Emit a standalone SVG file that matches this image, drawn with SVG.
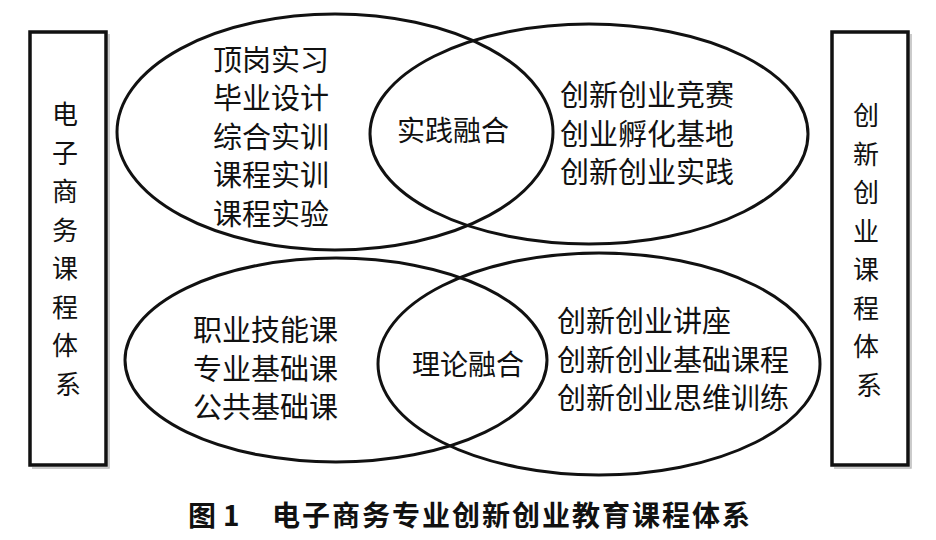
<svg xmlns="http://www.w3.org/2000/svg" width="936" height="540" viewBox="0 0 936 540">
  <style>
    .box { fill: #ffffff; stroke: #111111; stroke-width: 3.5; }
    .shadow { fill: none; stroke: #bbbbbb; stroke-width: 1.5; }
    .ell { fill: none; stroke: #111111; stroke-width: 3; }
    .t { font-family: "Noto Sans CJK SC", "Noto Sans CJK TC", sans-serif; fill: #111111; font-weight: 400; }
    .v { font-size: 26px; text-anchor: middle; }
    .e { font-size: 29px; }
    .m { font-size: 28px; }
    .cap { font-family: "Noto Sans CJK SC", "Liberation Sans", sans-serif; font-size: 28px; font-weight: 700; fill: #111111; }
  </style>

  <g id="left-box">
    <path class="shadow" d="M109 34 V468 H32"/>
    <rect class="box" x="30" y="32" width="76" height="433"/>
    <text class="t v">
      <tspan x="68" y="124">电</tspan>
      <tspan x="68" y="162.5">子</tspan>
      <tspan x="68" y="201">商</tspan>
      <tspan x="68" y="239.5">务</tspan>
      <tspan x="68" y="278">课</tspan>
      <tspan x="68" y="316.5">程</tspan>
      <tspan x="68" y="355">体</tspan>
      <tspan x="68" y="393.5">系</tspan>
    </text>
  </g>

  <g id="right-box">
    <path class="shadow" d="M911 34 V468 H834"/>
    <rect class="box" x="832" y="32" width="76" height="433"/>
    <text class="t v">
      <tspan x="869" y="125">创</tspan>
      <tspan x="869" y="163.5">新</tspan>
      <tspan x="869" y="202">创</tspan>
      <tspan x="869" y="240.5">业</tspan>
      <tspan x="869" y="279">课</tspan>
      <tspan x="869" y="317.5">程</tspan>
      <tspan x="869" y="356">体</tspan>
      <tspan x="869" y="394.5">系</tspan>
    </text>
  </g>

  <g id="connectors">
    <ellipse class="ell" cx="335" cy="132" rx="218" ry="118"/>
    <ellipse class="ell" cx="589" cy="134" rx="219" ry="110"/>
    <ellipse class="ell" cx="336" cy="360" rx="211" ry="102"/>
    <ellipse class="ell" cx="599" cy="364" rx="221" ry="111"/>
  </g>

  <g id="practice-school">
    <text class="t e">
      <tspan x="213" y="70.5">顶岗实习</tspan>
      <tspan x="213" y="109">毕业设计</tspan>
      <tspan x="213" y="147.5">综合实训</tspan>
      <tspan x="213" y="186">课程实训</tspan>
      <tspan x="213" y="224.5">课程实验</tspan>
    </text>
  </g>

  <g id="practice-fusion">
    <text class="t m" x="397" y="141">实践融合</text>
  </g>

  <g id="practice-innovation">
    <text class="t e">
      <tspan x="560" y="106">创新创业竞赛</tspan>
      <tspan x="560" y="144.5">创业孵化基地</tspan>
      <tspan x="560" y="183">创新创业实践</tspan>
    </text>
  </g>

  <g id="theory-school">
    <text class="t e">
      <tspan x="193" y="341">职业技能课</tspan>
      <tspan x="193" y="379.5">专业基础课</tspan>
      <tspan x="193" y="418">公共基础课</tspan>
    </text>
  </g>

  <g id="theory-fusion">
    <text class="t m" x="412" y="375">理论融合</text>
  </g>

  <g id="theory-innovation">
    <text class="t e">
      <tspan x="557" y="332">创新创业讲座</tspan>
      <tspan x="557" y="370.5">创新创业基础课程</tspan>
      <tspan x="557" y="409">创新创业思维训练</tspan>
    </text>
  </g>

  <g id="caption">
    <text class="cap" y="526">
      <tspan x="188">图</tspan>
      <tspan x="223">1</tspan>
      <tspan x="272" letter-spacing="2">电子商务专业创新创业教育课程体系</tspan>
    </text>
  </g>
</svg>
